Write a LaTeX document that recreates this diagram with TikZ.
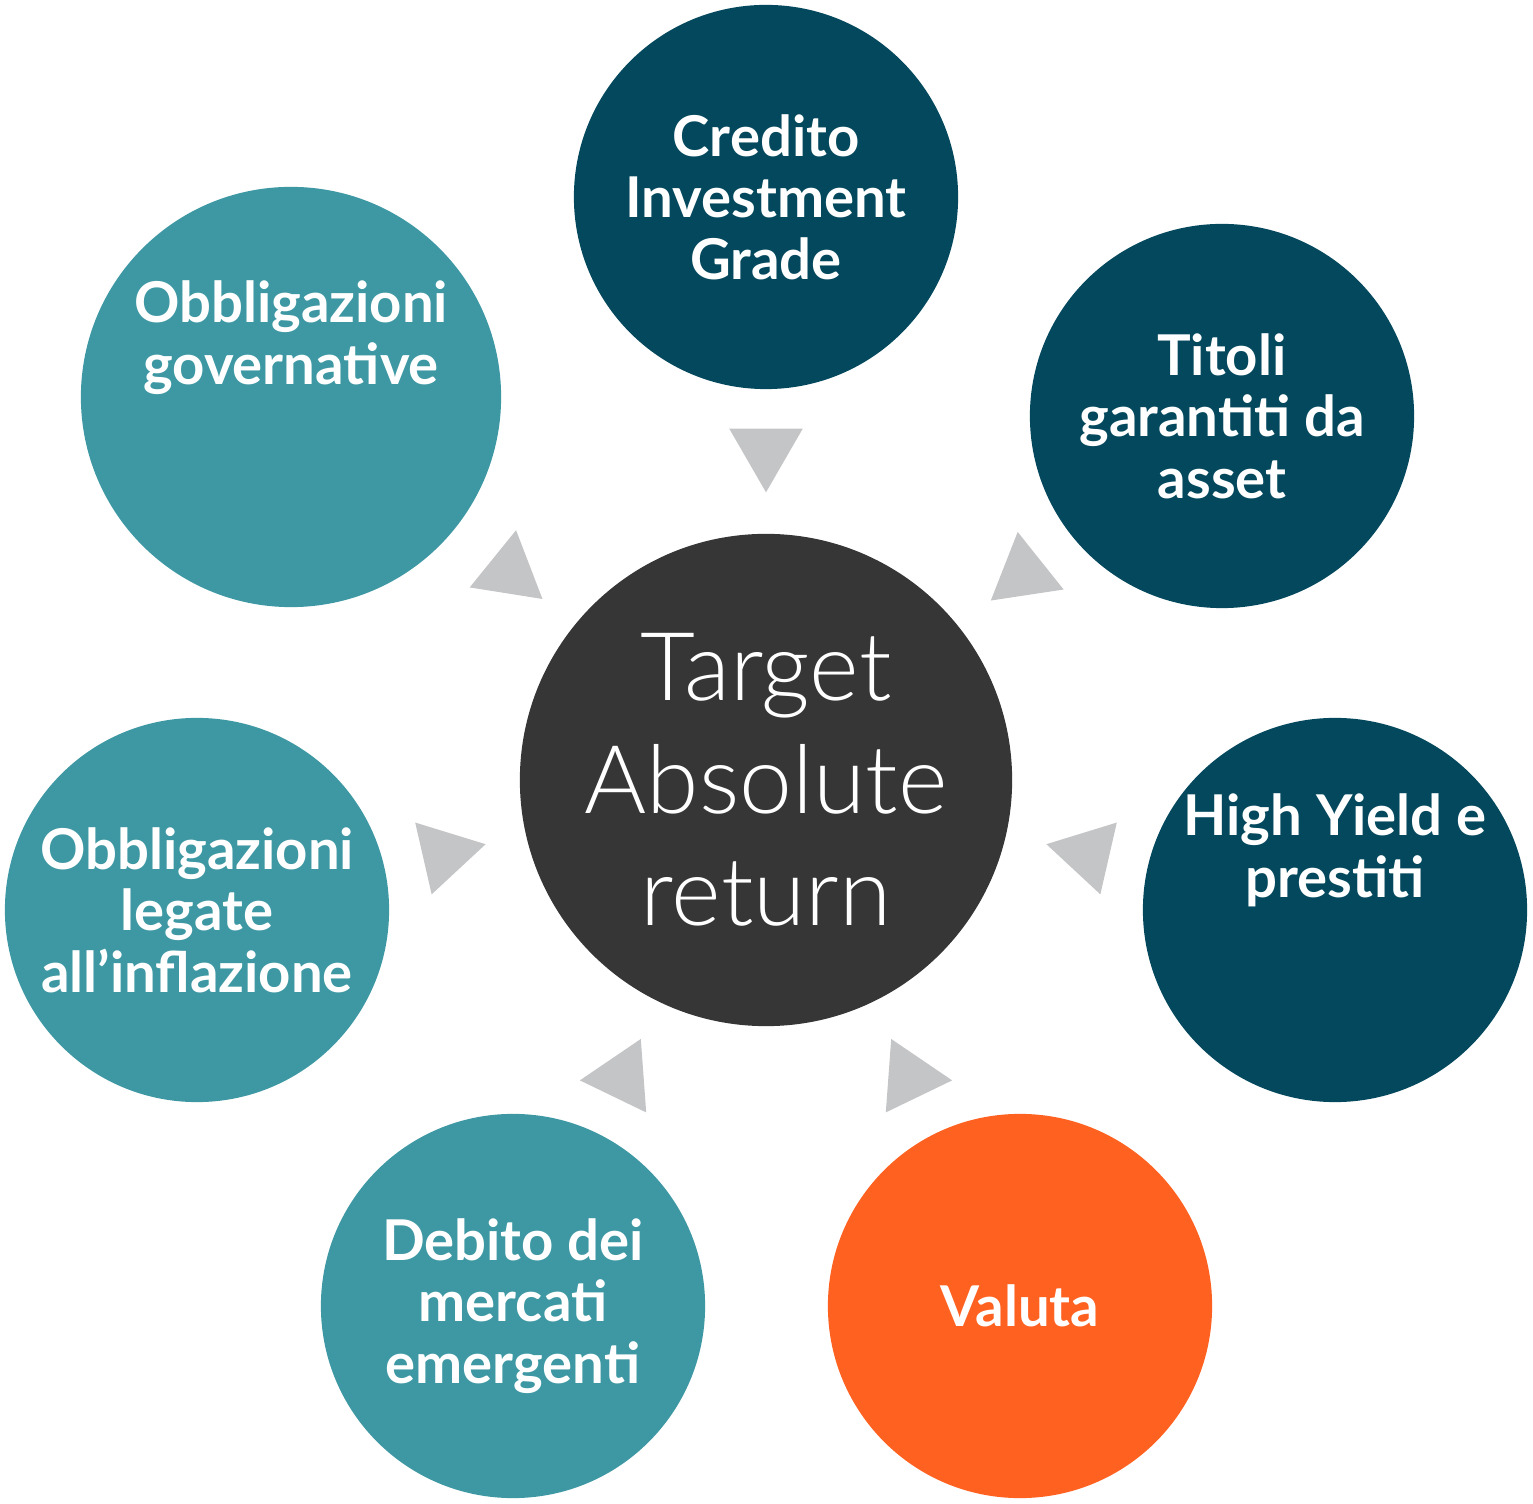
\documentclass[tikz,border=0pt]{standalone}
\usepackage{fontspec}
\setmainfont{Lato}
\usetikzlibrary{shapes.geometric, positioning, calc}
\definecolor{darkteal}{HTML}{03485C}
\definecolor{lightteal}{HTML}{3E98A3}
\definecolor{valorange}{HTML}{FF6120}
\definecolor{hubgrey}{HTML}{363636}
\definecolor{arrowgrey}{HTML}{C4C5C7}
\tikzstyle{hub}=[circle, fill=hubgrey, text=white, minimum size=4.92cm, inner sep=0pt,
                 font=\fontsize{27}{32}\selectfont\sffamily, align=center]
\tikzstyle{asset}=[circle, text=white, minimum size=3.84cm, inner sep=0pt,
                   font=\fontsize{16}{17.5}\selectfont\bfseries, align=center]
\tikzstyle{pointer}=[regular polygon, regular polygon sides=3, fill=arrowgrey,
                     minimum size=0.85cm, inner sep=0pt]
\begin{document}
\begin{tikzpicture}[x=0.01cm, y=-0.01cm]
  \useasboundingbox (0,0) rectangle (1533,1504);

  \node[hub] (target) at (766,780) {\fontspec{Lato Light}Target\\\fontspec{Lato Light}Absolute\\\fontspec{Lato Light}return};

  \node[asset, fill=darkteal] (credito) at (766,197) {Credito\\Investment\\Grade};
  \node[asset, fill=darkteal] (titoli) at (1222,416) {Titoli\\garantiti da\\asset};
  \node[asset, fill=darkteal] (highyield) at (1335,910) {High Yield e\\prestiti\\[1.2em]};
  \node[asset, fill=valorange] (valuta) at (1020,1306) {Valuta};
  \node[asset, fill=lightteal] (debito) at (513,1306) {Debito dei\\mercati\\emergenti};
  \node[asset, fill=lightteal] (legate) at (197,910) {Obbligazioni\\legate\\all'inflazione};
  \node[asset, fill=lightteal, minimum size=4.2cm] (governative) at (291,397) {Obbligazioni\\governative\\[1.2em]};

  \foreach \a/\n in {90/credito,38.6/titoli,-12.9/highyield,-64.2/valuta,-115.8/debito,192.9/legate,141/governative}{
    \node[pointer, rotate=\a+90] (p\n) at ($(target)+(\a:3.3cm)$) {};
  }
\end{tikzpicture}
\end{document}
